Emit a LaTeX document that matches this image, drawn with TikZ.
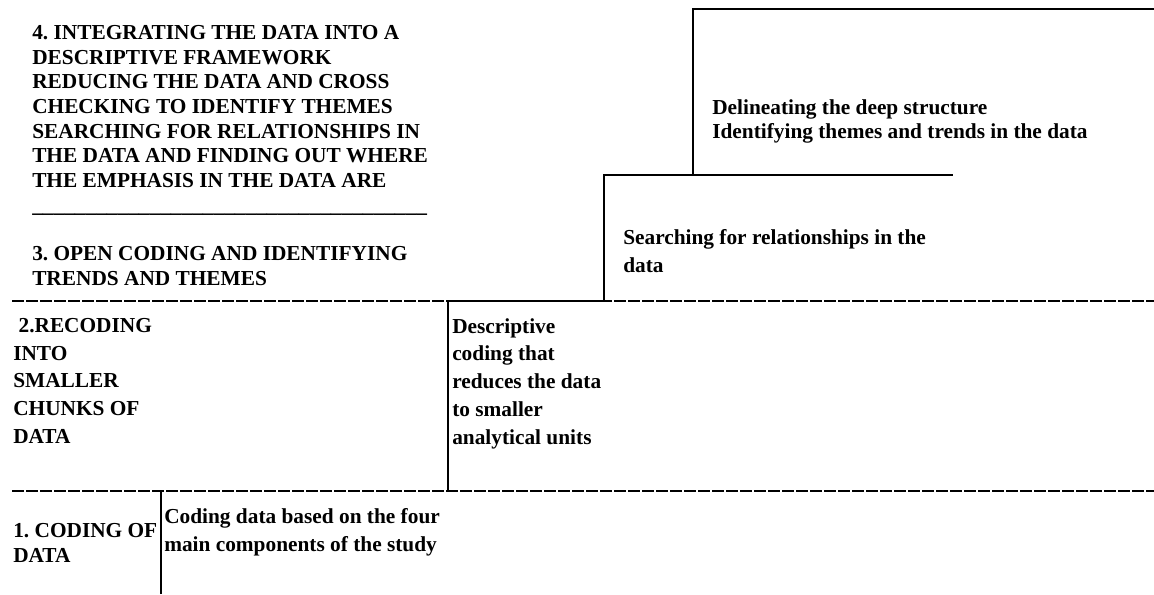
\documentclass[tikz,border=0pt]{standalone}
\usepackage{fontspec}
\setmainfont{Liberation Serif}
\frenchspacing
\tikzset{
  steptext/.style={anchor=north west, inner sep=0pt, align=left,
    font=\bfseries\fontsize{16}{18.5}\selectfont},
  widetext/.style={steptext, font=\bfseries\fontsize{16}{20.8}\selectfont},
  stair/.style={line width=2pt},
  divider/.style={line width=2.2pt, dash pattern=on 9pt off 1.5pt}
}
\begin{document}
\begin{tikzpicture}[x=0.75pt,y=-0.75pt]
        \useasboundingbox (0,0) rectangle (1154,594);
        % level dividers
        \draw[divider] (12,301) -- (1154,301);
        \draw[divider] (12,491) -- (1154,491);
        % the stairs
        \draw[stair] (161,594) -- (161,491);
        \draw[stair] (448,491) -- (448,301) -- (604,301) -- (604,175) -- (953,175);
        \draw[stair] (693,175) -- (693,9) -- (1154,9);
        % left column
        \node[steptext] (stagefour) at (32,25) {4. INTEGRATING THE DATA INTO A\\
           DESCRIPTIVE FRAMEWORK\\
           REDUCING THE DATA AND CROSS\\
           CHECKING TO IDENTIFY THEMES\\
           SEARCHING FOR RELATIONSHIPS IN\\
           THE DATA AND FINDING OUT WHERE\\
           THE EMPHASIS IN THE DATA ARE\\
           \_\_\_\_\_\_\_\_\_\_\_\_\_\_\_\_\_\_\_\_\_\_\_\_\_\_\_\_\_\_\_\_\_\_\_\_\_};
        \node[steptext] (stagethree) at (32,246) {3. OPEN CODING AND IDENTIFYING\\
           TRENDS AND THEMES};
        \node[widetext] (stagetwo) at (13,318) {\ 2.RECODING\\ INTO\\ SMALLER\\ CHUNKS OF\\ DATA};
        \node[steptext, font=\bfseries\fontsize{16}{18.8}\selectfont] (stageone) at (13,523) {1. CODING OF\\ DATA};
        % steps
        \node[widetext] (codingdesc) at (164,508) {Coding data based on the four\\
           main components of the study};
        \node[widetext] (recodingdesc) at (452,318) {Descriptive\\ coding that\\
           reduces the data\\ to smaller\\ analytical units};
        \node[widetext] (searchdesc) at (623,229) {Searching for relationships in the\\ data};
        \node[steptext, font=\bfseries\fontsize{16}{18}\selectfont] (deepdesc) at (712,99) {Delineating the deep structure\\
           Identifying themes and trends in the data};
      \end{tikzpicture}
\end{document}
